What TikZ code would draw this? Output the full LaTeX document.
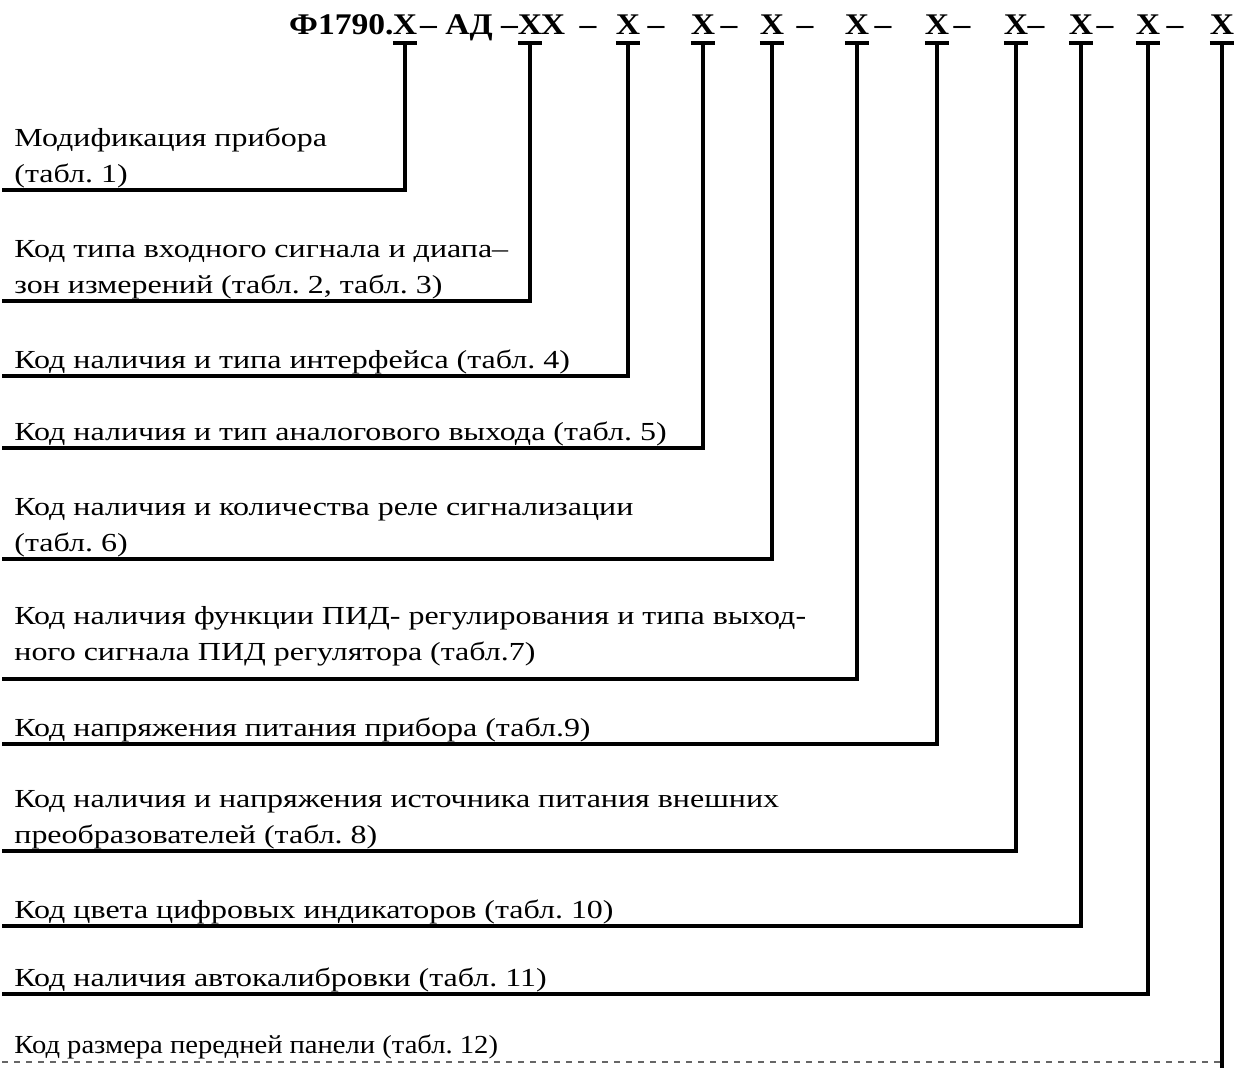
\documentclass[tikz,border=0pt]{standalone}
\usepackage{fontspec}
\setmainfont{Liberation Serif}
\newfontfamily\lblfont{Liberation Serif}[FakeStretch=1.23]
\newfontfamily\lastfont{Liberation Serif}[FakeStretch=1.10]
\newfontfamily\ttlfont{Liberation Serif}[FakeStretch=1.12]
\usetikzlibrary{positioning}
\tikzset{
	code/.style={font=\fontsize{15}{18}\ttlfont\bfseries,inner sep=0pt,outer sep=0pt,text depth=4pt,anchor=base},
	ttl/.style={font=\fontsize{15}{18}\ttlfont\bfseries,inner sep=0pt,anchor=base},
	lbl/.style={font=\fontsize{13}{18}\lblfont\frenchspacing,inner sep=0pt,align=left,anchor=south west},
	lead/.style={line width=1.6pt},
	tail/.style={line width=0.6pt,dashed,black!60}
}
\begin{document}
\begin{tikzpicture}[x=0.5pt,y=-0.5pt]
	\useasboundingbox (0,0) rectangle (1239,1068);
	% title
	\node [ttl,anchor=base east] (t0) at (394,35) {Ф1790.};
	\node [code] (k1) at (405,35) {Х};
	\node [ttl] (t1) at (469,35) {– АД –};
	\node [code] (k2) at (530,35) {Х};
	\node [ttl] (t2) at (553,35) {Х};
	\node [ttl] (d2) at (588,35) {–};
	\node [code] (k3) at (628,35) {Х};
	\node [ttl] (d3) at (656,35) {–};
	\node [code] (k4) at (703,35) {Х};
	\node [ttl] (d4) at (729,35) {–};
	\node [code] (k5) at (772,35) {Х};
	\node [ttl] (d5) at (805,35) {–};
	\node [code] (k6) at (857,35) {Х};
	\node [ttl] (d6) at (883,35) {–};
	\node [code] (k7) at (937,35) {Х};
	\node [ttl] (d7) at (962,35) {–};
	\node [code] (k8) at (1016,35) {Х};
	\node [ttl] (d8) at (1036,35) {–};
	\node [code] (k9) at (1081,35) {Х};
	\node [ttl] (d9) at (1105,35) {–};
	\node [code] (k10) at (1148,35) {Х};
	\node [ttl] (d10) at (1175,35) {–};
	\node [code] (k11) at (1222,35) {Х};

	% labels
	\node [lbl] (l1) at (14,188) {Модификация прибора\\(табл. 1)};
	\node [lbl] (l2) at (14,299) {Код типа входного сигнала и диапа–\\зон измерений (табл. 2, табл. 3)};
	\node [lbl] (l3) at (14,374) {Код наличия и типа интерфейса (табл. 4)};
	\node [lbl] (l4) at (14,446) {Код наличия и тип аналогового выхода (табл. 5)};
	\node [lbl] (l5) at (14,557) {Код наличия и количества реле сигнализации\\(табл. 6)};
	\node [lbl] (l6) at (14,667) {Код наличия функции ПИД- регулирования и типа выход-\\ного сигнала ПИД регулятора (табл.7)};
	\node [lbl] (l7) at (14,742) {Код напряжения питания прибора (табл.9)};
	\node [lbl] (l8) at (14,849) {Код наличия и напряжения источника питания внешних\\преобразователей (табл. 8)};
	\node [lbl] (l9) at (14,924) {Код цвета цифровых индикаторов (табл. 10)};
	\node [lbl] (l10) at (14,992) {Код наличия автокалибровки (табл. 11)};
	\node [lbl,font=\fontsize{13}{18}\lastfont\frenchspacing] (l11) at (14,1059) {Код размера передней панели (табл. 12)};

	\coordinate (e1) at (2,190);
	\coordinate (e2) at (2,301);
	\coordinate (e3) at (2,376);
	\coordinate (e4) at (2,448);
	\coordinate (e5) at (2,559);
	\coordinate (e6) at (2,679);
	\coordinate (e7) at (2,744);
	\coordinate (e8) at (2,851);
	\coordinate (e9) at (2,926);
	\coordinate (e10) at (2,994);
	\coordinate (e11) at (2,1062);
	\coordinate (bot) at (1222,1068);

	% underbars
	\foreach \k in {k1,k2,k3,k4,k5,k6,k7,k8,k9,k10,k11}
		\draw [lead] (\k.south west) -- (\k.south east);

	% leaders
	\draw [lead] (k1.south) |- (e1);
	\draw [lead] (k2.south) |- (e2);
	\draw [lead] (k3.south) |- (e3);
	\draw [lead] (k4.south) |- (e4);
	\draw [lead] (k5.south) |- (e5);
	\draw [lead] (k6.south) |- (e6);
	\draw [lead] (k7.south) |- (e7);
	\draw [lead] (k8.south) |- (e8);
	\draw [lead] (k9.south) |- (e9);
	\draw [lead] (k10.south) |- (e10);
	\draw [lead] (k11.south) -- (bot);
	\draw [tail] (e11) -- (k11.south |- e11);
\end{tikzpicture}
\end{document}
